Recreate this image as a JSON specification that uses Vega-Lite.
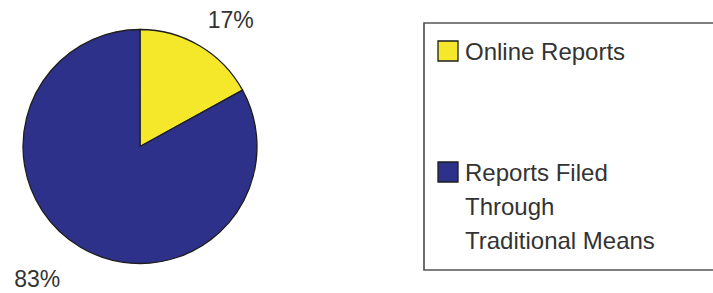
{
  "$schema": "https://vega.github.io/schema/vega-lite/v6.json",
  "width": 280,
  "height": 293,
  "padding": 0,
  "autosize": {"type": "pad"},
  "background": "white",
  "view": {"stroke": null},
  "data": {
    "values": [
      {"category": "Online Reports", "share": 0.17},
      {"category": "Reports Filed Through Traditional Means", "share": 0.83}
    ]
  },
  "encoding": {
    "theta": {"field": "share", "type": "quantitative", "stack": true}
  },
  "layer": [
    {
      "mark": {"type": "arc", "outerRadius": 117, "stroke": "#1e1e1e", "strokeWidth": 1.3},
      "encoding": {
        "color": {
          "field": "category",
          "type": "nominal",
          "scale": {
            "domain": ["Online Reports", "Reports Filed Through Traditional Means"],
            "range": ["#F5E82A", "#2D3189"]
          },
          "legend": {
            "title": " ",
            "titleOrient": "right",
            "titlePadding": 44,
            "titleFontSize": 10,
            "orient": "none",
            "legendX": 424,
            "legendY": 23,
            "padding": 16,
            "strokeColor": "#555555",
            "fillColor": "white",
            "symbolType": "square",
            "symbolSize": 400,
            "symbolOffset": -4,
            "symbolStrokeColor": "#1e1e1e",
            "symbolStrokeWidth": 1.3,
            "labelFont": "Liberation Sans",
            "labelFontSize": 24,
            "labelColor": "#333333",
            "labelOffset": 5,
            "labelLimit": 400,
            "labelBaseline": "alphabetic",
            "rowPadding": 94,
            "labelExpr": "datum.label == 'Online Reports' ? datum.label : ['Reports Filed', 'Through', 'Traditional Means']",
            "encode": {
              "legend": {"update": {"strokeWidth": {"value": 1.7}}},
              "labels": {"update": {"lineHeight": {"value": 34}, "dy": {"value": 8.5}}}
            }
          }
        }
      }
    },
    {
      "mark": {
        "type": "text",
        "radius": 135,
        "font": "Liberation Sans",
        "fontSize": 23,
        "fill": "#333333",
        "align": {"expr": "datum.category == 'Online Reports' ? 'left' : 'right'"},
        "baseline": {"expr": "datum.category == 'Online Reports' ? 'bottom' : 'top'"},
        "dx": {"expr": "datum.category == 'Online Reports' ? -1 : -11"},
        "dy": {"expr": "datum.category == 'Online Reports' ? 3 : 6"}
      },
      "encoding": {
        "text": {"field": "share", "type": "quantitative", "format": ".0%"},
        "detail": {"field": "category", "type": "nominal"}
      }
    }
  ]
}
